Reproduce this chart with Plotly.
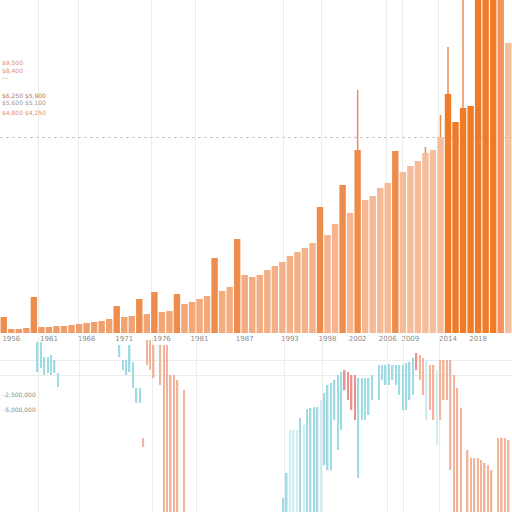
import plotly.graph_objects as go
from plotly.subplots import make_subplots
import numpy as np

# top panel: one bar per year
years = list(range(1955, 2023))
values = [16, 4, 4, 5, 36, 6, 6, 7, 7, 8, 9, 10, 11, 12, 14, 27, 16, 17, 34, 19,
          41, 21, 22, 39, 29, 31, 34, 37, 75, 42, 46, 94, 58, 56, 58, 63, 67, 71,
          77, 81, 85, 90, 126, 98, 109, 148, 120, 183, 133, 137, 145, 150, 182,
          161, 167, 172, 180, 183, 196, 239, 211, 225, 227, 360, 360, 360, 360, 290]
upper_extra = [0] * 47 + [60, 0, 0, 0, 0, 0, 0, 0, 0, 6, 0, 22, 47, 0, 120, 0, 0, 0, 0, 0, 0]
kind = ['spike', 'base', 'base', 'base', 'spike'] + ['base'] * 10 + ['spike', 'base', 'base', 'spike',
        'base', 'spike', 'base', 'base', 'spike'] + ['base'] * 4 + ['spike', 'base', 'base', 'spike'] + \
       ['base'] * 10 + ['spike', 'base', 'base', 'spike', 'base', 'spike'] + ['base'] * 4 + \
       ['spike'] + ['base'] * 6 + ['dark'] * 7 + ['mid', 'base']

tick_idx = [1, 6, 11, 16, 21, 26, 32, 38, 43, 47, 51, 54, 59, 63, 67]

# bottom panel: thin range lines (week slot, low, high)
blue_t = [11, 12, 13, 14, 15, 16, 17, 35, 36, 37, 38, 39, 40, 41,
          83, 84, 88, 90, 91, 92, 93, 95, 96, 97, 98, 99, 100, 105, 106, 107, 108, 109,
          111, 112, 113, 114, 115, 116, 117, 118, 119, 120, 121]
blue_low = [140, 144, 137, 139, 137, 139, 125, 155, 142, 137, 140, 124, 109, 109,
            0, 0, 0, 0, 0, 0, 0, 47, 42, 42, 92, 62, 82, 34, 92, 92, 97, 112,
            112, 132, 127, 127, 132, 127, 117, 102, 102, 112, 117]
blue_high = [170, 170, 155, 155, 157, 152, 139, 167, 152, 152, 167, 150, 124, 124,
             14, 39, 94, 103, 104, 105, 105, 119, 127, 129, 132, 137, 140, 134, 134, 134, 134, 137,
             147, 147, 147, 148, 147, 147, 147, 147, 149, 150, 154]

light_t = [85, 86, 87, 89, 94, 125, 128]
light_low = [0, 0, 0, 0, 0, 92, 67]
light_high = [82, 82, 82, 87, 112, 152, 142]

salmon_t = [42, 43, 44, 45, 47, 48, 49, 50, 51, 52, 54,
            123, 124, 126, 127, 129, 130, 131, 132, 133, 134, 135, 137, 138, 139, 140,
            141, 142, 143, 144, 146, 147, 148, 149]
salmon_low = [65, 147, 142, 134, 127, 0, 0, 0, 0, 0, 0,
              132, 117, 102, 92, 92, 112, 112, 42, 0, 0, 0, 0, 0, 0, 0,
              0, 0, 0, 0, 0, 0, 0, 0]
salmon_high = [74, 172, 172, 167, 167, 167, 167, 137, 137, 132, 122,
               157, 154, 147, 147, 152, 152, 152, 152, 137, 124, 104, 62, 54, 54, 54,
               52, 49, 47, 42, 74, 74, 74, 72]

red_t = [101, 102, 103, 104, 122]
red_low = [122, 112, 102, 92, 142]
red_high = [142, 140, 137, 137, 159]

side_notes = ['$9,500', '$8,400', '—', '$6,250 $5,900', '$5,600 $5,100', '$4,800 $4,250']
lower_labels = ['-2,500,000', '-5,000,000']


def base_colors(n):
    a = np.array([240, 152, 96])
    b = np.array([247, 190, 158])
    out = []
    for i in range(n):
        c = a + (b - a) * min(i / 58, 1)
        out.append('rgb(%d,%d,%d)' % tuple(c))
    return out


def main():
    fig = make_subplots(rows=2, cols=1)

    grad = base_colors(len(values))
    palette = {'spike': '#ee8c4c', 'dark': '#f07a26', 'mid': '#f4945a'}
    colors = [palette.get(k, grad[i]) for i, k in enumerate(kind)]

    fig.add_trace(go.Bar(
        x=list(range(len(values))), y=values, marker_color=colors, marker_line_width=0,
        error_y=dict(type='data', symmetric=False, array=upper_extra,
                     arrayminus=[0] * len(values), width=0, thickness=1.5, color='#ee8c4c'),
        showlegend=False), row=1, col=1)

    for t, lo, hi, col in [(blue_t, blue_low, blue_high, '#9fdbe3'),
                           (light_t, light_low, light_high, '#cdeef2'),
                           (salmon_t, salmon_low, salmon_high, '#f2b49a'),
                           (red_t, red_low, red_high, '#e8938f')]:
        fig.add_trace(go.Bar(
            x=t, y=[h - l for h, l in zip(hi, lo)], base=lo, width=0.45,
            marker_color=col, marker_line_width=0, showlegend=False), row=2, col=1)

    grid_px = [38, 79, 152, 196, 284, 322, 387, 403, 439]
    fig.update_layout(
        width=512, height=512, margin=dict(l=0, r=0, t=0, b=0),
        plot_bgcolor='white', paper_bgcolor='white', bargap=0.15,
        font=dict(family='DejaVu Sans', size=7, color='#8a8a8a'),
        xaxis=dict(range=[-0.5, len(values) - 0.5], showgrid=False, zeroline=False,
                   tickmode='array', tickvals=tick_idx,
                   ticktext=[str(years[i]) for i in tick_idx], ticks='',
                   minor=dict(tickmode='array', tickvals=[p / 7.53 - 0.5 for p in grid_px],
                              showgrid=True, gridcolor='#ececec', gridwidth=1)),
        yaxis=dict(domain=[0.3496, 1], range=[0, 333], showticklabels=False, zeroline=False,
                   tickmode='array', tickvals=[196], showgrid=True,
                   gridcolor='#c8c8c8', griddash='dot', gridwidth=1),
        xaxis2=dict(range=[0, 150], showticklabels=False, showgrid=False, zeroline=False,
                    minor=dict(tickmode='array', tickvals=[p / 3.413 for p in grid_px],
                               showgrid=True, gridcolor='#ececec', gridwidth=1)),
        yaxis2=dict(domain=[0, 0.3398], range=[0, 174], zeroline=False, showgrid=False,
                    tickmode='array', tickvals=[117, 102], ticktext=lower_labels,
                    ticklabelposition='inside', tickfont=dict(size=6, color='#8a8a8a'),
                    minor=dict(tickmode='array', tickvals=[152, 137],
                               showgrid=True, gridcolor='#ececec', gridwidth=1)),
    )

    note_y = [62, 70, 77, 95, 102, 112]
    note_col = ['#e0926a', '#e0926a', '#e0926a', '#b07a5e', '#9a9a9a', '#e0926a']
    for text, yy, col in zip(side_notes, note_y, note_col):
        fig.add_annotation(text=text, x=0, y=1 - yy / 512, xref='paper', yref='paper',
                           xanchor='left', yanchor='middle', showarrow=False,
                           font=dict(size=6, color=col))

    # the page body has a default margin; drop it so the 512px figure fills the window
    fig.write_html("out.html", config={'displayModeBar': False},
                   post_script="document.body.style.margin='0';document.body.style.overflow='hidden';")


if __name__ == '__main__':
    main()
